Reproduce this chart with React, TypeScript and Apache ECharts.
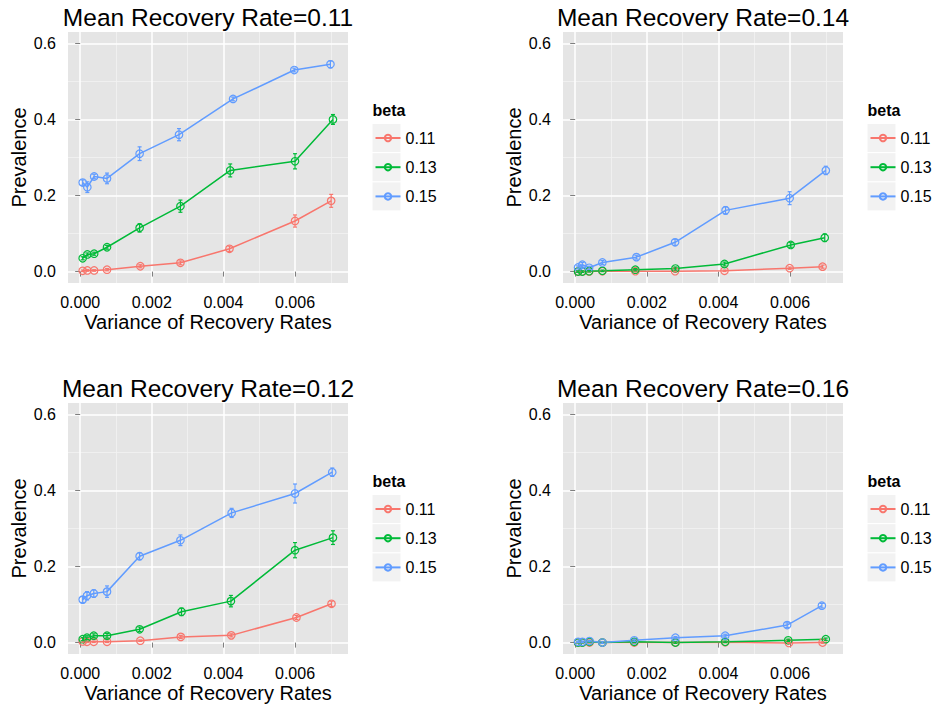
import React, { useEffect, useRef } from "react";
import * as echarts from "echarts";

// ---- data ----
const betas = ["0.11", "0.13", "0.15"];
const meanRates = ["0.11", "0.14", "0.12", "0.16"]; // TL, TR, BL, BR
const xTicks = [0, 0.002, 0.004, 0.006];
const xMinor = [0.001, 0.003, 0.005, 0.007];
const yTicks = [0, 0.2, 0.4, 0.6];
const yMinor = [0.1, 0.3, 0.5];

// variance (x) per beta series: [0.11, 0.13, 0.15]
const varX_011 = [
  [0.00007, 0.0002, 0.00039, 0.00075, 0.00168, 0.0028, 0.00417, 0.006, 0.00701],
  [0.00007, 0.0002, 0.00039, 0.00075, 0.00166, 0.0028, 0.00419, 0.006, 0.00706],
  [0.00007, 0.0002, 0.00039, 0.00075, 0.00166, 0.00276, 0.00427, 0.00598, 0.00699],
];
const prev_011 = [
  [0.002, 0.003, 0.003, 0.005, 0.014, 0.023, 0.06, 0.133, 0.186],
  [0.035, 0.045, 0.047, 0.064, 0.115, 0.172, 0.266, 0.29, 0.4],
  [0.234, 0.222, 0.25, 0.245, 0.31, 0.36, 0.454, 0.53, 0.545],
];
const se_011 = [
  [0.002, 0.002, 0.002, 0.003, 0.004, 0.005, 0.007, 0.016, 0.017],
  [0.004, 0.004, 0.004, 0.005, 0.011, 0.016, 0.017, 0.02, 0.013],
  [0.007, 0.014, 0.006, 0.014, 0.018, 0.016, 0.005, 0.005, 0.009],
];

const varX_014 = [
  [0.00008, 0.0002, 0.00039, 0.00076, 0.00168, 0.00279, 0.00417, 0.00599, 0.00691],
  [0.00008, 0.0002, 0.00039, 0.00076, 0.00168, 0.0028, 0.00417, 0.00602, 0.00697],
  [0.00008, 0.0002, 0.00039, 0.00076, 0.00171, 0.00279, 0.0042, 0.00599, 0.007],
];
const prev_014 = [
  [0, 0, 0, 0.001, 0.001, 0.001, 0.002, 0.009, 0.013],
  [0, 0, 0.001, 0.002, 0.005, 0.008, 0.02, 0.07, 0.089],
  [0.011, 0.018, 0.01, 0.024, 0.038, 0.077, 0.161, 0.193, 0.266],
];
const se_014 = [
  [0.001, 0.001, 0.001, 0.001, 0.002, 0.002, 0.002, 0.003, 0.004],
  [0.002, 0.002, 0.002, 0.002, 0.003, 0.004, 0.005, 0.006, 0.01],
  [0.004, 0.006, 0.004, 0.005, 0.005, 0.008, 0.01, 0.017, 0.011],
];

const varX_012 = [
  [0.00007, 0.00019, 0.00038, 0.00075, 0.00168, 0.00281, 0.00422, 0.00604, 0.00702],
  [0.00007, 0.00019, 0.00038, 0.00075, 0.00166, 0.00283, 0.00421, 0.006, 0.00706],
  [0.00007, 0.00019, 0.00038, 0.00075, 0.00166, 0.0028, 0.00423, 0.006, 0.00704],
];
const prev_012 = [
  [0.003, 0.002, 0.002, 0.002, 0.005, 0.015, 0.019, 0.066, 0.102],
  [0.009, 0.013, 0.018, 0.018, 0.035, 0.081, 0.109, 0.243, 0.276],
  [0.113, 0.123, 0.129, 0.134, 0.227, 0.269, 0.341, 0.392, 0.448],
];
const se_012 = [
  [0.002, 0.002, 0.002, 0.002, 0.002, 0.004, 0.004, 0.005, 0.007],
  [0.004, 0.005, 0.005, 0.006, 0.006, 0.01, 0.015, 0.02, 0.018],
  [0.008, 0.011, 0.01, 0.015, 0.009, 0.014, 0.012, 0.025, 0.011],
];

const varX_016 = [
  [0.00008, 0.0002, 0.0004, 0.00076, 0.00165, 0.0028, 0.00419, 0.00597, 0.00691],
  [0.00008, 0.0002, 0.0004, 0.00076, 0.00165, 0.0028, 0.00419, 0.00595, 0.007],
  [0.00008, 0.0002, 0.0004, 0.00076, 0.00165, 0.0028, 0.00419, 0.00592, 0.00689],
];
const prev_016 = [
  [0, 0, 0, 0, 0, 0, 0.001, -0.001, 0],
  [0, 0, 0.002, 0, 0.002, 0, 0.002, 0.006, 0.009],
  [0.002, 0.002, 0.004, 0, 0.006, 0.013, 0.018, 0.046, 0.097],
];
const se_016 = [
  [0.001, 0.001, 0.001, 0.001, 0.001, 0.001, 0.001, 0.002, 0.002],
  [0.001, 0.001, 0.002, 0.001, 0.002, 0.002, 0.002, 0.003, 0.003],
  [0.002, 0.002, 0.002, 0.002, 0.003, 0.003, 0.004, 0.006, 0.006],
];

const panelX = [varX_011, varX_014, varX_012, varX_016];
const panelY = [prev_011, prev_014, prev_012, prev_016];
const panelE = [se_011, se_014, se_012, se_016];

// ---- style / layout ----
const COLORS = ["#F8766D", "#00BA38", "#619CFF"];
const FONT = "Liberation Sans";
const PANELS = [
  { left: 68, top: 32 },
  { left: 563, top: 32 },
  { left: 68, top: 403 },
  { left: 563, top: 403 },
];
const PW = 280;
const PH = 251;
const X_MIN = -0.00034;
const X_MAX = 0.00748;
const Y_MIN = -0.03;
const Y_MAX = 0.63;

function buildOption() {
  const grid: any[] = [];
  const xAxis: any[] = [];
  const yAxis: any[] = [];
  const series: any[] = [];
  const legend: any[] = [];
  const graphic: any[] = [];

  PANELS.forEach((p, i) => {
    grid.push({
      left: p.left,
      top: p.top,
      width: PW,
      height: PH,
      show: true,
      backgroundColor: "#E5E5E5",
      borderWidth: 0,
      containLabel: false,
    });
    xAxis.push({
      type: "value",
      gridIndex: i,
      min: X_MIN,
      max: X_MAX,
      z: 2,
      position: "bottom",
      name: "Variance of Recovery Rates",
      nameLocation: "middle",
      nameGap: 29,
      nameTextStyle: { fontFamily: FONT, fontSize: 20, color: "#000" },
      axisLine: { show: false },
      axisTick: { show: true, length: 5, customValues: xTicks, lineStyle: { color: "#7F7F7F", width: 1 } },
      axisLabel: {
        customValues: xTicks,
        margin: 11,
        fontFamily: FONT,
        fontSize: 16,
        color: "#000",
        formatter: (v: number) => v.toFixed(3),
      },
      splitLine: { show: true, lineStyle: { color: "#FFFFFF", width: 1.5 } },
    });
    yAxis.push({
      type: "value",
      gridIndex: i,
      min: Y_MIN,
      max: Y_MAX,
      z: 2,
      position: "left",
      name: "Prevalence",
      nameLocation: "middle",
      nameGap: 39,
      nameRotate: 90,
      nameTextStyle: { fontFamily: FONT, fontSize: 20, color: "#000" },
      axisLine: { show: false },
      axisTick: { show: true, length: 5, customValues: yTicks, lineStyle: { color: "#7F7F7F", width: 1 } },
      axisLabel: {
        customValues: yTicks,
        margin: 12,
        fontFamily: FONT,
        fontSize: 16,
        color: "#000",
        formatter: (v: number) => v.toFixed(1),
      },
      splitLine: { show: true, lineStyle: { color: "#FFFFFF", width: 1.5 } },
    });
  });

  // minor grid axes
  PANELS.forEach((p, i) => {
    xAxis.push({
      type: "value",
      gridIndex: i,
      min: X_MIN,
      max: X_MAX,
      z: 1,
      axisLine: { show: false },
      axisTick: { show: false, customValues: xMinor },
      axisLabel: { show: false, customValues: xMinor },
      splitLine: { show: true, lineStyle: { color: "#F2F2F2", width: 0.8 } },
    });
    yAxis.push({
      type: "value",
      gridIndex: i,
      min: Y_MIN,
      max: Y_MAX,
      z: 1,
      axisLine: { show: false },
      axisTick: { show: false, customValues: yMinor },
      axisLabel: { show: false, customValues: yMinor },
      splitLine: { show: true, lineStyle: { color: "#F2F2F2", width: 0.8 } },
    });
  });

  PANELS.forEach((p, i) => {
    betas.forEach((b, k) => {
      const xs = panelX[i][k];
      const ys = panelY[i][k];
      const es = panelE[i][k];
      const c = COLORS[k];
      series.push({
        type: "line",
        name: b,
        xAxisIndex: i,
        yAxisIndex: i,
        data: xs.map((x, j) => [x, ys[j]]),
        symbol: "circle",
        symbolSize: 7.5,
        showSymbol: true,
        lineStyle: { color: c, width: 1.5 },
        itemStyle: { color: "rgba(0,0,0,0)", borderColor: c, borderWidth: 1.2 },
        emphasis: { disabled: true },
        z: 3,
      });
      series.push({
        type: "custom",
        name: "se " + b,
        xAxisIndex: i,
        yAxisIndex: i,
        data: xs.map((x, j) => [x, ys[j], es[j]]),
        encode: { x: 0, y: 1 },
        z: 4,
        renderItem: (params: any, api: any) => {
          const x = api.value(0);
          const y = api.value(1);
          const e = api.value(2);
          const t = api.coord([x, y + e]);
          const bt = api.coord([x, y - e]);
          const w = 2;
          const st = { stroke: c, lineWidth: 1.2 };
          return {
            type: "group",
            children: [
              { type: "line", shape: { x1: t[0], y1: t[1], x2: bt[0], y2: bt[1] }, style: st },
              { type: "line", shape: { x1: t[0] - w, y1: t[1], x2: t[0] + w, y2: t[1] }, style: st },
              { type: "line", shape: { x1: bt[0] - w, y1: bt[1], x2: bt[0] + w, y2: bt[1] }, style: st },
            ],
          };
        },
      });
    });

    const lx = p.left + PW + 24.5;
    legend.push({
      orient: "vertical",
      left: lx + 2,
      top: p.top + 98,
      padding: 0,
      itemWidth: 25,
      itemHeight: 8,
      itemGap: 13.2,
      data: betas,
      selectedMode: false,
      textStyle: { fontFamily: FONT, fontSize: 16, color: "#000" },
    });
    betas.forEach((b, k) => {
      graphic.push({
        type: "rect",
        z: -10,
        shape: { x: lx, y: p.top + 92 + k * 29.2, width: 28, height: 28 },
        style: { fill: "#F2F2F2" },
      });
    });
    graphic.push({
      type: "text",
      x: lx,
      y: p.top + 78,
      style: {
        text: "beta",
        fill: "#000",
        fontFamily: FONT,
        fontSize: 16,
        fontWeight: "bold",
        align: "left",
        verticalAlign: "middle",
      },
    });
    graphic.push({
      type: "text",
      x: p.left + PW / 2,
      y: p.top - 14.5,
      style: {
        text: "Mean Recovery Rate=" + meanRates[i],
        fill: "#000",
        fontFamily: FONT,
        fontSize: 24.5,
        align: "center",
        verticalAlign: "middle",
      },
    });
  });

  return {
    animation: false,
    backgroundColor: "#FFFFFF",
    textStyle: { fontFamily: FONT },
    grid,
    xAxis,
    yAxis,
    legend,
    graphic,
    series,
  };
}

export default function App() {
  const ref = useRef<HTMLDivElement>(null);
  useEffect(() => {
    if (!ref.current) return;
    const chart = echarts.init(ref.current, undefined, { renderer: "svg" });
    chart.setOption(buildOption() as any);
    return () => {
      chart.dispose();
    };
  }, []);
  return (
    <div
      ref={ref}
      style={{ position: "absolute", left: 0, top: 0, width: 935, height: 704, background: "#fff" }}
    />
  );
}
